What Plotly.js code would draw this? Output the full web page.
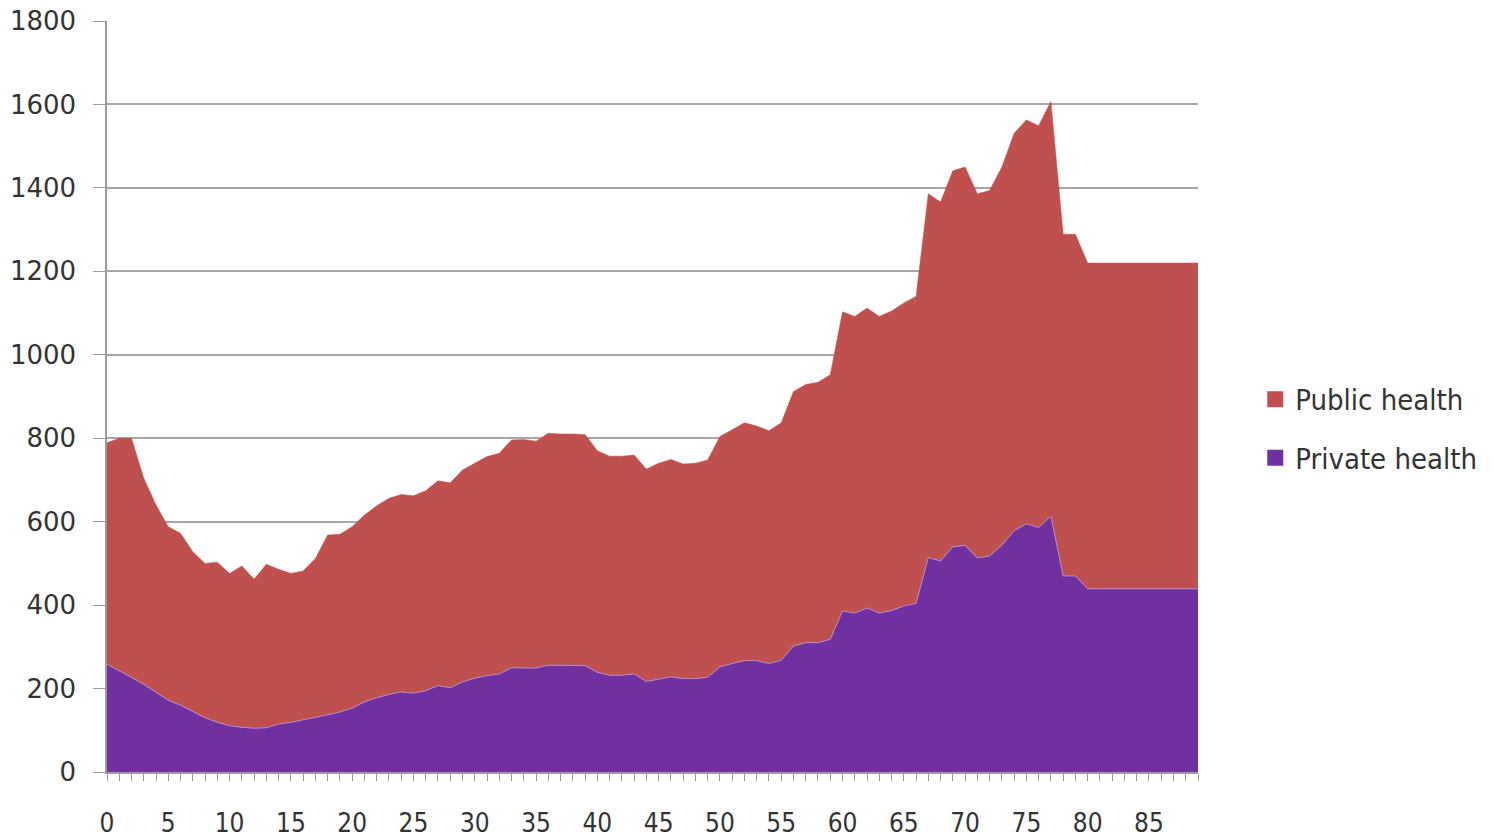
<!DOCTYPE html>
<html>
<head>
<meta charset="utf-8">
<script src="https://cdn.plot.ly/plotly-3.0.1.min.js"></script>
<style>
	html, body { margin: 0; padding: 0; background: #fff; }
	#plot { width: 1494px; height: 838px; }
</style>
</head>
<body>
<div id="plot"></div>
<script>
const ages = [];
for (let a = 0; a <= 89; a++) ages.push(a);

// per-age spending
const privateHealth = [
	258, 243, 227, 210, 192, 172, 160, 146, 130, 119,
	111, 107, 105, 106, 115, 119, 125, 130, 137, 144,
	153, 168, 178, 186, 192, 189, 195, 207, 202, 216,
	225, 231, 235, 250, 250, 249, 256, 256, 256, 255,
	239, 232, 232, 235, 217, 223, 228, 224, 224, 227,
	252, 260, 267, 267, 260, 268, 302, 310, 310, 318,
	386, 381, 393, 381, 387, 398, 404, 514, 506, 540,
	543, 513, 518, 544, 578, 595, 586, 613, 470, 470,
	439, 439, 439, 439, 439, 439, 439, 439, 439, 439
];
const publicHealth = [
	531, 557, 573, 494, 448, 416, 412, 382, 370, 384,
	365, 387, 357, 392, 371, 357, 357, 382, 431, 426,
	435, 448, 460, 470, 473, 473, 479, 491, 491, 508,
	515, 525, 529, 546, 547, 544, 556, 554, 554, 554,
	531, 525, 525, 525, 509, 517, 521, 514, 516, 521,
	552, 560, 570, 562, 558, 569, 610, 619, 624, 634,
	717, 711, 719, 711, 718, 726, 736, 872, 860, 901,
	907, 873, 876, 906, 953, 968, 963, 994, 819, 819,
	781, 781, 781, 781, 781, 781, 781, 781, 781, 781
];

const seriesNames = ["Private health", "Public health"];
const seriesColors = ["#7030a0", "#c0504d"];
const edgeColors = ["#b58ac8", "#c0504d"];
const seriesValues = [privateHealth, publicHealth];

const traces = [];
seriesValues.forEach((vals, i) => {
	traces.push({
		x: ages, y: vals, name: seriesNames[i],
		type: "scatter", mode: "lines", stackgroup: "one",
		line: { color: edgeColors[i], width: i === 0 ? 1 : 0.5 },
		fillcolor: seriesColors[i],
		showlegend: false, hoverinfo: "x+y+name"
	});
});
// square legend keys like the original, top series listed first
[1, 0].forEach((i) => {
	traces.push({
		x: [null], y: [null], name: seriesNames[i],
		type: "scatter", mode: "markers",
		marker: { symbol: "square", size: 18, color: seriesColors[i] },
		legendgroup: "g" + i, showlegend: true
	});
});

const labelFont = "DejaVu Sans Condensed, Liberation Sans Narrow, Liberation Sans, sans-serif";

const layout = {
	width: 1494,
	height: 838,
	margin: { l: 107, r: 294, t: 21, b: 66 },
	paper_bgcolor: "#fff",
	plot_bgcolor: "#fff",
	showlegend: true,
	legend: {
		x: 1.0525, y: 0.457, xanchor: "left", yanchor: "middle",
		traceorder: "grouped",
		font: { family: labelFont, size: 29, color: "#333" },
		itemwidth: 30,
		tracegroupgap: 18
	},
	xaxis: {
		range: [0, 89],
		dtick: 5,
		tick0: 0,
		showgrid: false,
		zeroline: false,
		showline: true,
		linecolor: "#9a9a9a",
		linewidth: 1.5,
		ticks: "outside",
		ticklen: 7,
		tickcolor: "#9a9a9a",
		ticklabelstandoff: 20,
		minor: { dtick: 1, ticks: "outside", ticklen: 7, tickcolor: "#9a9a9a" },
		tickfont: { family: labelFont, size: 26, color: "#333" }
	},
	yaxis: {
		range: [0, 1800],
		dtick: 200,
		showgrid: true,
		gridcolor: "#a6a6a6",
		gridwidth: 1.5,
		zeroline: false,
		showline: true,
		linecolor: "#9a9a9a",
		linewidth: 1.5,
		ticks: "outside",
		ticklen: 12,
		tickcolor: "#9a9a9a",
		ticklabelstandoff: 12,
		tickfont: { family: "DejaVu Sans, sans-serif", size: 26, color: "#333" }
	}
};

Plotly.newPlot("plot", traces, layout, { displayModeBar: false });
</script>
</body>
</html>
